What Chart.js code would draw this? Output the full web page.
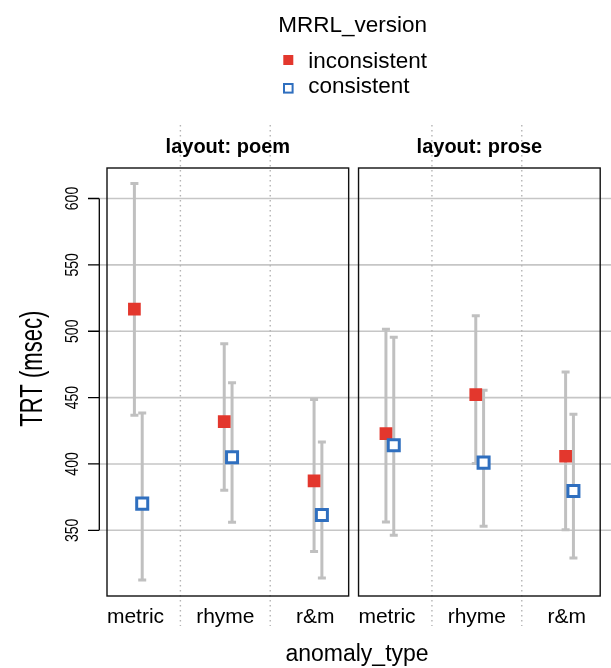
<!DOCTYPE html>
<html>
<head>
<meta charset="utf-8">
<script src="https://cdn.jsdelivr.net/npm/chart.js@4.4.1/dist/chart.umd.min.js"></script>
<style>
  html, body { margin: 0; padding: 0; background: #fff; }
</style>
</head>
<body>
<canvas id="chart" width="611" height="668"></canvas>
<script>
// categories / facets
var categories = ['metric', 'rhyme', 'r&m'];
var layouts = ['layout: poem', 'layout: prose'];
var versions = ['inconsistent', 'consistent'];
var yTicks = [350, 400, 450, 500, 550, 600];

// layout: poem
var poemIncMean = [516.6, 431.9, 387.2];
var poemIncLow = [436.7, 380.2, 334.0];
var poemIncHigh = [611.3, 490.5, 448.5];
var poemConMean = [370.1, 405.0, 361.6];
var poemConLow = [312.6, 356.0, 314.1];
var poemConHigh = [438.4, 461.1, 416.6];

// layout: prose
var proseIncMean = [422.9, 452.3, 405.8];
var proseIncLow = [356.3, 400.3, 350.5];
var proseIncHigh = [501.5, 511.6, 469.3];
var proseConMean = [414.1, 401.0, 379.6];
var proseConLow = [346.2, 353.0, 329.1];
var proseConHigh = [495.5, 455.5, 437.4];

// panel geometry in x units (one unit = one category step)
var PANEL_SHIFT = 2.8;
var PANEL_LEFT = -0.317;
var PANEL_RIGHT = 2.373;
var INC_DX = -0.012;
var CON_DX = 0.075;

var RED = '#e3372d';
var BLUE = '#2f6fbf';
var GREY = '#c0c0c0';
var FONT = '"Liberation Sans", Arial, Helvetica, sans-serif';

function barData(panel, dx, low, high) {
	var pts = [];
	for (var i = 0; i < categories.length; i++) {
		var x = panel * PANEL_SHIFT + i + dx;
		pts.push({x: x, y: low[i]}, {x: x, y: high[i]}, {x: x, y: null});
	}
	return pts;
}

function pointData(panel, dx, mean) {
	var pts = [];
	for (var i = 0; i < categories.length; i++) {
		pts.push({x: panel * PANEL_SHIFT + i + dx, y: mean[i]});
	}
	return pts;
}

var barStyle = {
	showLine: true,
	spanGaps: false,
	borderColor: GREY,
	borderWidth: 3,
	pointStyle: 'line',
	pointRadius: 4,
	pointBorderWidth: 3,
	pointBorderColor: GREY,
	pointBackgroundColor: GREY,
	order: 2
};

function bars(data) {
	return Object.assign({data: data}, barStyle);
}

var datasets = [
	bars(barData(0, INC_DX, poemIncLow, poemIncHigh)),
	bars(barData(0, CON_DX, poemConLow, poemConHigh)),
	bars(barData(1, INC_DX, proseIncLow, proseIncHigh)),
	bars(barData(1, CON_DX, proseConLow, proseConHigh)),
	{
		label: versions[0],
		data: pointData(0, INC_DX, poemIncMean).concat(pointData(1, INC_DX, proseIncMean)),
		pointStyle: 'rect',
		pointRadius: 9,
		pointBorderWidth: 0,
		pointBackgroundColor: RED,
		pointBorderColor: RED,
		order: 1
	},
	{
		label: versions[1],
		data: pointData(0, CON_DX, poemConMean).concat(pointData(1, CON_DX, proseConMean)),
		pointStyle: 'rect',
		pointRadius: 7.8,
		pointBorderWidth: 3,
		pointBackgroundColor: '#ffffff',
		pointBorderColor: BLUE,
		order: 0
	}
];

function rotatedText(ctx, txt, x, y, size, squeeze, baseline) {
	ctx.save();
	ctx.translate(x, y);
	ctx.rotate(-Math.PI / 2);
	ctx.scale(squeeze, 1);
	ctx.font = size + 'px ' + FONT;
	ctx.textAlign = 'center';
	ctx.textBaseline = baseline;
	ctx.fillText(txt, 0, 0);
	ctx.restore();
}

var panelPlugin = {
	id: 'panels',
	beforeDatasetsDraw: function(chart) {
		var ctx = chart.ctx, xs = chart.scales.x, ys = chart.scales.y, area = chart.chartArea;
		ctx.save();
		// horizontal grid
		ctx.strokeStyle = '#c6c6c6';
		ctx.lineWidth = 1.6;
		yTicks.forEach(function(t) {
			var py = ys.getPixelForValue(t);
			ctx.beginPath();
			ctx.moveTo(100, py);
			ctx.lineTo(611, py);
			ctx.stroke();
		});
		// dotted separators between categories
		ctx.strokeStyle = '#b4b4b4';
		ctx.lineWidth = 1.4;
		ctx.setLineDash([1.5, 3.5]);
		for (var p = 0; p < layouts.length; p++) {
			for (var i = 0; i < categories.length - 1; i++) {
				var px = xs.getPixelForValue(p * PANEL_SHIFT + i + 0.5);
				ctx.beginPath();
				ctx.moveTo(px, 125);
				ctx.lineTo(px, 626);
				ctx.stroke();
			}
		}
		ctx.setLineDash([]);
		// panel frames
		ctx.strokeStyle = '#111';
		ctx.lineWidth = 1.4;
		for (p = 0; p < layouts.length; p++) {
			var l = xs.getPixelForValue(p * PANEL_SHIFT + PANEL_LEFT);
			var r = xs.getPixelForValue(p * PANEL_SHIFT + PANEL_RIGHT);
			ctx.strokeRect(l, area.top, r - l, area.bottom - area.top);
		}
		ctx.restore();
	},
	afterDraw: function(chart) {
		var ctx = chart.ctx, xs = chart.scales.x, ys = chart.scales.y;
		ctx.save();
		ctx.fillStyle = '#000';

		// strip labels
		ctx.font = 'bold 20px ' + FONT;
		ctx.textAlign = 'center';
		ctx.textBaseline = 'alphabetic';
		for (var p = 0; p < layouts.length; p++) {
			var cx = (xs.getPixelForValue(p * PANEL_SHIFT + PANEL_LEFT) + xs.getPixelForValue(p * PANEL_SHIFT + PANEL_RIGHT)) / 2;
			ctx.fillText(layouts[p], cx, 153);
		}

		// x tick labels
		ctx.font = '21px ' + FONT;
		for (p = 0; p < layouts.length; p++) {
			for (var i = 0; i < categories.length; i++) {
				ctx.fillText(categories[i], xs.getPixelForValue(p * PANEL_SHIFT + i), 623);
			}
		}

		// x title
		ctx.font = '23px ' + FONT;
		ctx.fillText('anomaly_type', 357, 661);

		// y axis
		var y0 = ys.getPixelForValue(yTicks[0]);
		var y1 = ys.getPixelForValue(yTicks[yTicks.length - 1]);
		ctx.strokeStyle = '#000';
		ctx.lineWidth = 1.3;
		ctx.beginPath();
		ctx.moveTo(99.3, y0);
		ctx.lineTo(99.3, y1);
		yTicks.forEach(function(t) {
			var py = ys.getPixelForValue(t);
			ctx.moveTo(88, py);
			ctx.lineTo(99.3, py);
		});
		ctx.stroke();
		yTicks.forEach(function(t) {
			rotatedText(ctx, String(t), 77.5, ys.getPixelForValue(t), 19, 0.74, 'alphabetic');
		});

		// y title
		rotatedText(ctx, 'TRT (msec)', 41.5, 368.7, 32, 0.69, 'alphabetic');

		// legend
		ctx.textAlign = 'left';
		ctx.font = '22.5px ' + FONT;
		ctx.fillText('MRRL_version', 278.3, 31.7);
		ctx.fillText(versions[0], 308.3, 68.3);
		ctx.fillText(versions[1], 308.3, 93.3);
		ctx.fillStyle = RED;
		ctx.fillRect(283.3, 55, 10, 10);
		ctx.strokeStyle = BLUE;
		ctx.lineWidth = 2;
		ctx.strokeRect(284, 84, 8.6, 8.6);
		ctx.restore();
	}
};

var ctx = document.getElementById('chart').getContext('2d');
var chart = new Chart(ctx, {
	type: 'scatter',
	data: {datasets: datasets},
	options: {
		responsive: false,
		animation: false,
		events: [],
		devicePixelRatio: 1,
		layout: {padding: {left: 107, top: 168, right: 4, bottom: 72}},
		plugins: {
			legend: {display: false},
			tooltip: {enabled: false}
		},
		scales: {
			x: {type: 'linear', display: false, min: PANEL_LEFT, max: PANEL_SHIFT + PANEL_RIGHT},
			y: {type: 'linear', display: false, min: 300.5, max: 623}
		}
	},
	plugins: [panelPlugin]
});
</script>
</body>
</html>
